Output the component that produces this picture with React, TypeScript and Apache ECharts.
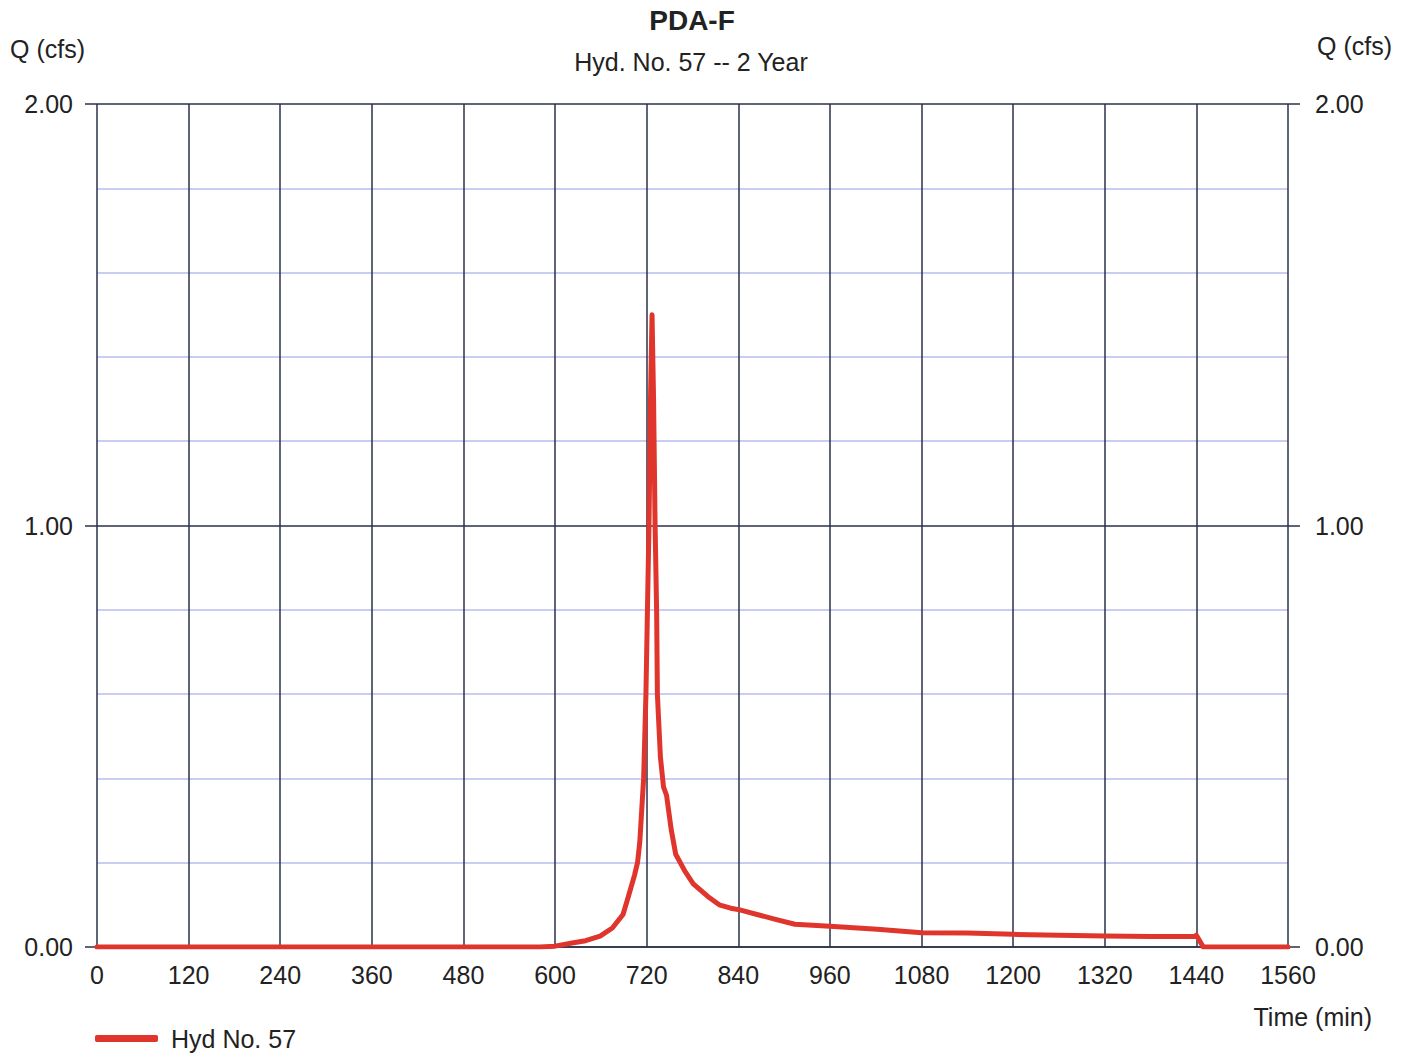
import React, { useEffect, useRef } from "react";
import * as echarts from "echarts";

const timeMin: number[] = [0, 580, 600, 624, 640, 659, 675, 689, 696, 704, 708, 711, 716, 719, 721, 723, 725, 727, 729, 731, 733, 734, 738, 742, 746, 752, 758, 770, 781, 800, 815, 830, 842, 867, 890, 914, 960, 1022, 1080, 1140, 1200, 1260, 1320, 1380, 1438, 1440, 1449, 1560];
const flowCfs: number[] = [0, 0, 0.002, 0.01, 0.015, 0.026, 0.045, 0.077, 0.12, 0.17, 0.2, 0.25, 0.4, 0.6, 0.8, 1.0, 1.3, 1.5, 1.3, 1.0, 0.8, 0.6, 0.45, 0.38, 0.36, 0.28, 0.22, 0.18, 0.15, 0.12, 0.1, 0.092, 0.088, 0.076, 0.065, 0.054, 0.049, 0.042, 0.034, 0.033, 0.03, 0.028, 0.026, 0.025, 0.025, 0.028, 0, 0];

const xTicks = { min: 0, max: 1560, interval: 120 };
const yTicks = { min: 0, max: 2, interval: 1 };

const seriesName = "Hyd No. 57";
const titleText = "PDA-F";
const subtitleText = "Hyd. No. 57 -- 2 Year";
const yName = "Q (cfs)";
const xName = "Time (min)";

const FONT = "'Liberation Sans', Arial, sans-serif";
const DARK = "#2a3049";
const LIGHT = "#b7bdf0";
const TXT = "#222222";
const RED = "#e0352c";
const FS = 25;

export default function App() {
  const ref = useRef<HTMLDivElement>(null);
  useEffect(() => {
    if (!ref.current) return;
    const chart = echarts.init(ref.current, undefined, { renderer: "svg" });
    const data = timeMin.map((t, i) => [t, flowCfs[i]]);
    const yAxisCommon = {
      type: "value",
      min: yTicks.min,
      max: yTicks.max,
      interval: yTicks.interval,
      axisLine: { show: false },
      axisLabel: {
        fontSize: FS,
        fontFamily: FONT,
        color: TXT,
        formatter: (v: number) => v.toFixed(2),
      },
      axisTick: { show: true, inside: false, length: 12, lineStyle: { color: DARK, width: 1.5 } },
    };
    chart.setOption({
      animation: false,
      backgroundColor: "#ffffff",
      textStyle: { fontFamily: FONT },
      grid: { left: 97, top: 104, width: 1191, height: 843, containLabel: false },
      xAxis: {
        type: "value",
        min: xTicks.min,
        max: xTicks.max,
        interval: xTicks.interval,
        axisLine: { show: true, lineStyle: { color: DARK, width: 1.5 } },
        axisTick: { show: false },
        axisLabel: { fontSize: FS, fontFamily: FONT, color: TXT, margin: 15, formatter: (v: number) => String(v) },
        splitLine: { show: true, lineStyle: { color: DARK, width: 1.5 } },
      },
      yAxis: [
        {
          ...yAxisCommon,
          position: "left",
          axisLabel: { ...yAxisCommon.axisLabel, margin: 24 },
          splitLine: { show: true, lineStyle: { color: DARK, width: 1.5 } },
          minorTick: { show: false, splitNumber: 5 },
          minorSplitLine: { show: true, lineStyle: { color: LIGHT, width: 1.5 } },
        },
        {
          ...yAxisCommon,
          position: "right",
          axisLabel: { ...yAxisCommon.axisLabel, margin: 27 },
          splitLine: { show: false },
        },
      ],
      legend: {
        show: true,
        left: 95,
        top: 1026,
        padding: 0,
        itemWidth: 63,
        itemHeight: 7,
        itemGap: 12,
        textStyle: { fontSize: FS, fontFamily: FONT, color: TXT, lineHeight: 25, height: 25, padding: [0, 0, 0, 8] },
        data: [{ name: seriesName, icon: "roundRect" }],
      },
      graphic: [
        {
          type: "text",
          x: 692,
          y: 20,
          style: { text: titleText, font: `bold 28px ${FONT}`, fill: TXT, textAlign: "center", textVerticalAlign: "middle" },
        },
        {
          type: "text",
          x: 691,
          y: 62,
          style: { text: subtitleText, font: `${FS}px ${FONT}`, fill: TXT, textAlign: "center", textVerticalAlign: "middle" },
        },
        {
          type: "text",
          x: 10,
          y: 49,
          style: { text: yName, font: `${FS}px ${FONT}`, fill: TXT, textAlign: "left", textVerticalAlign: "middle" },
        },
        {
          type: "text",
          x: 1392,
          y: 46,
          style: { text: yName, font: `${FS}px ${FONT}`, fill: TXT, textAlign: "right", textVerticalAlign: "middle" },
        },
        {
          type: "text",
          x: 1372,
          y: 1017,
          style: { text: xName, font: `${FS}px ${FONT}`, fill: TXT, textAlign: "right", textVerticalAlign: "middle" },
        },
      ],
      series: [
        {
          name: seriesName,
          type: "line",
          data,
          showSymbol: false,
          symbol: "none",
          color: RED,
          lineStyle: { color: RED, width: 5, cap: "round", join: "round" },
          yAxisIndex: 0,
        },
      ],
    });
    return () => chart.dispose();
  }, []);
  return (
    <div
      ref={ref}
      style={{ position: "fixed", left: 0, top: 0, width: 1410, height: 1053, background: "#fff" }}
    />
  );
}
